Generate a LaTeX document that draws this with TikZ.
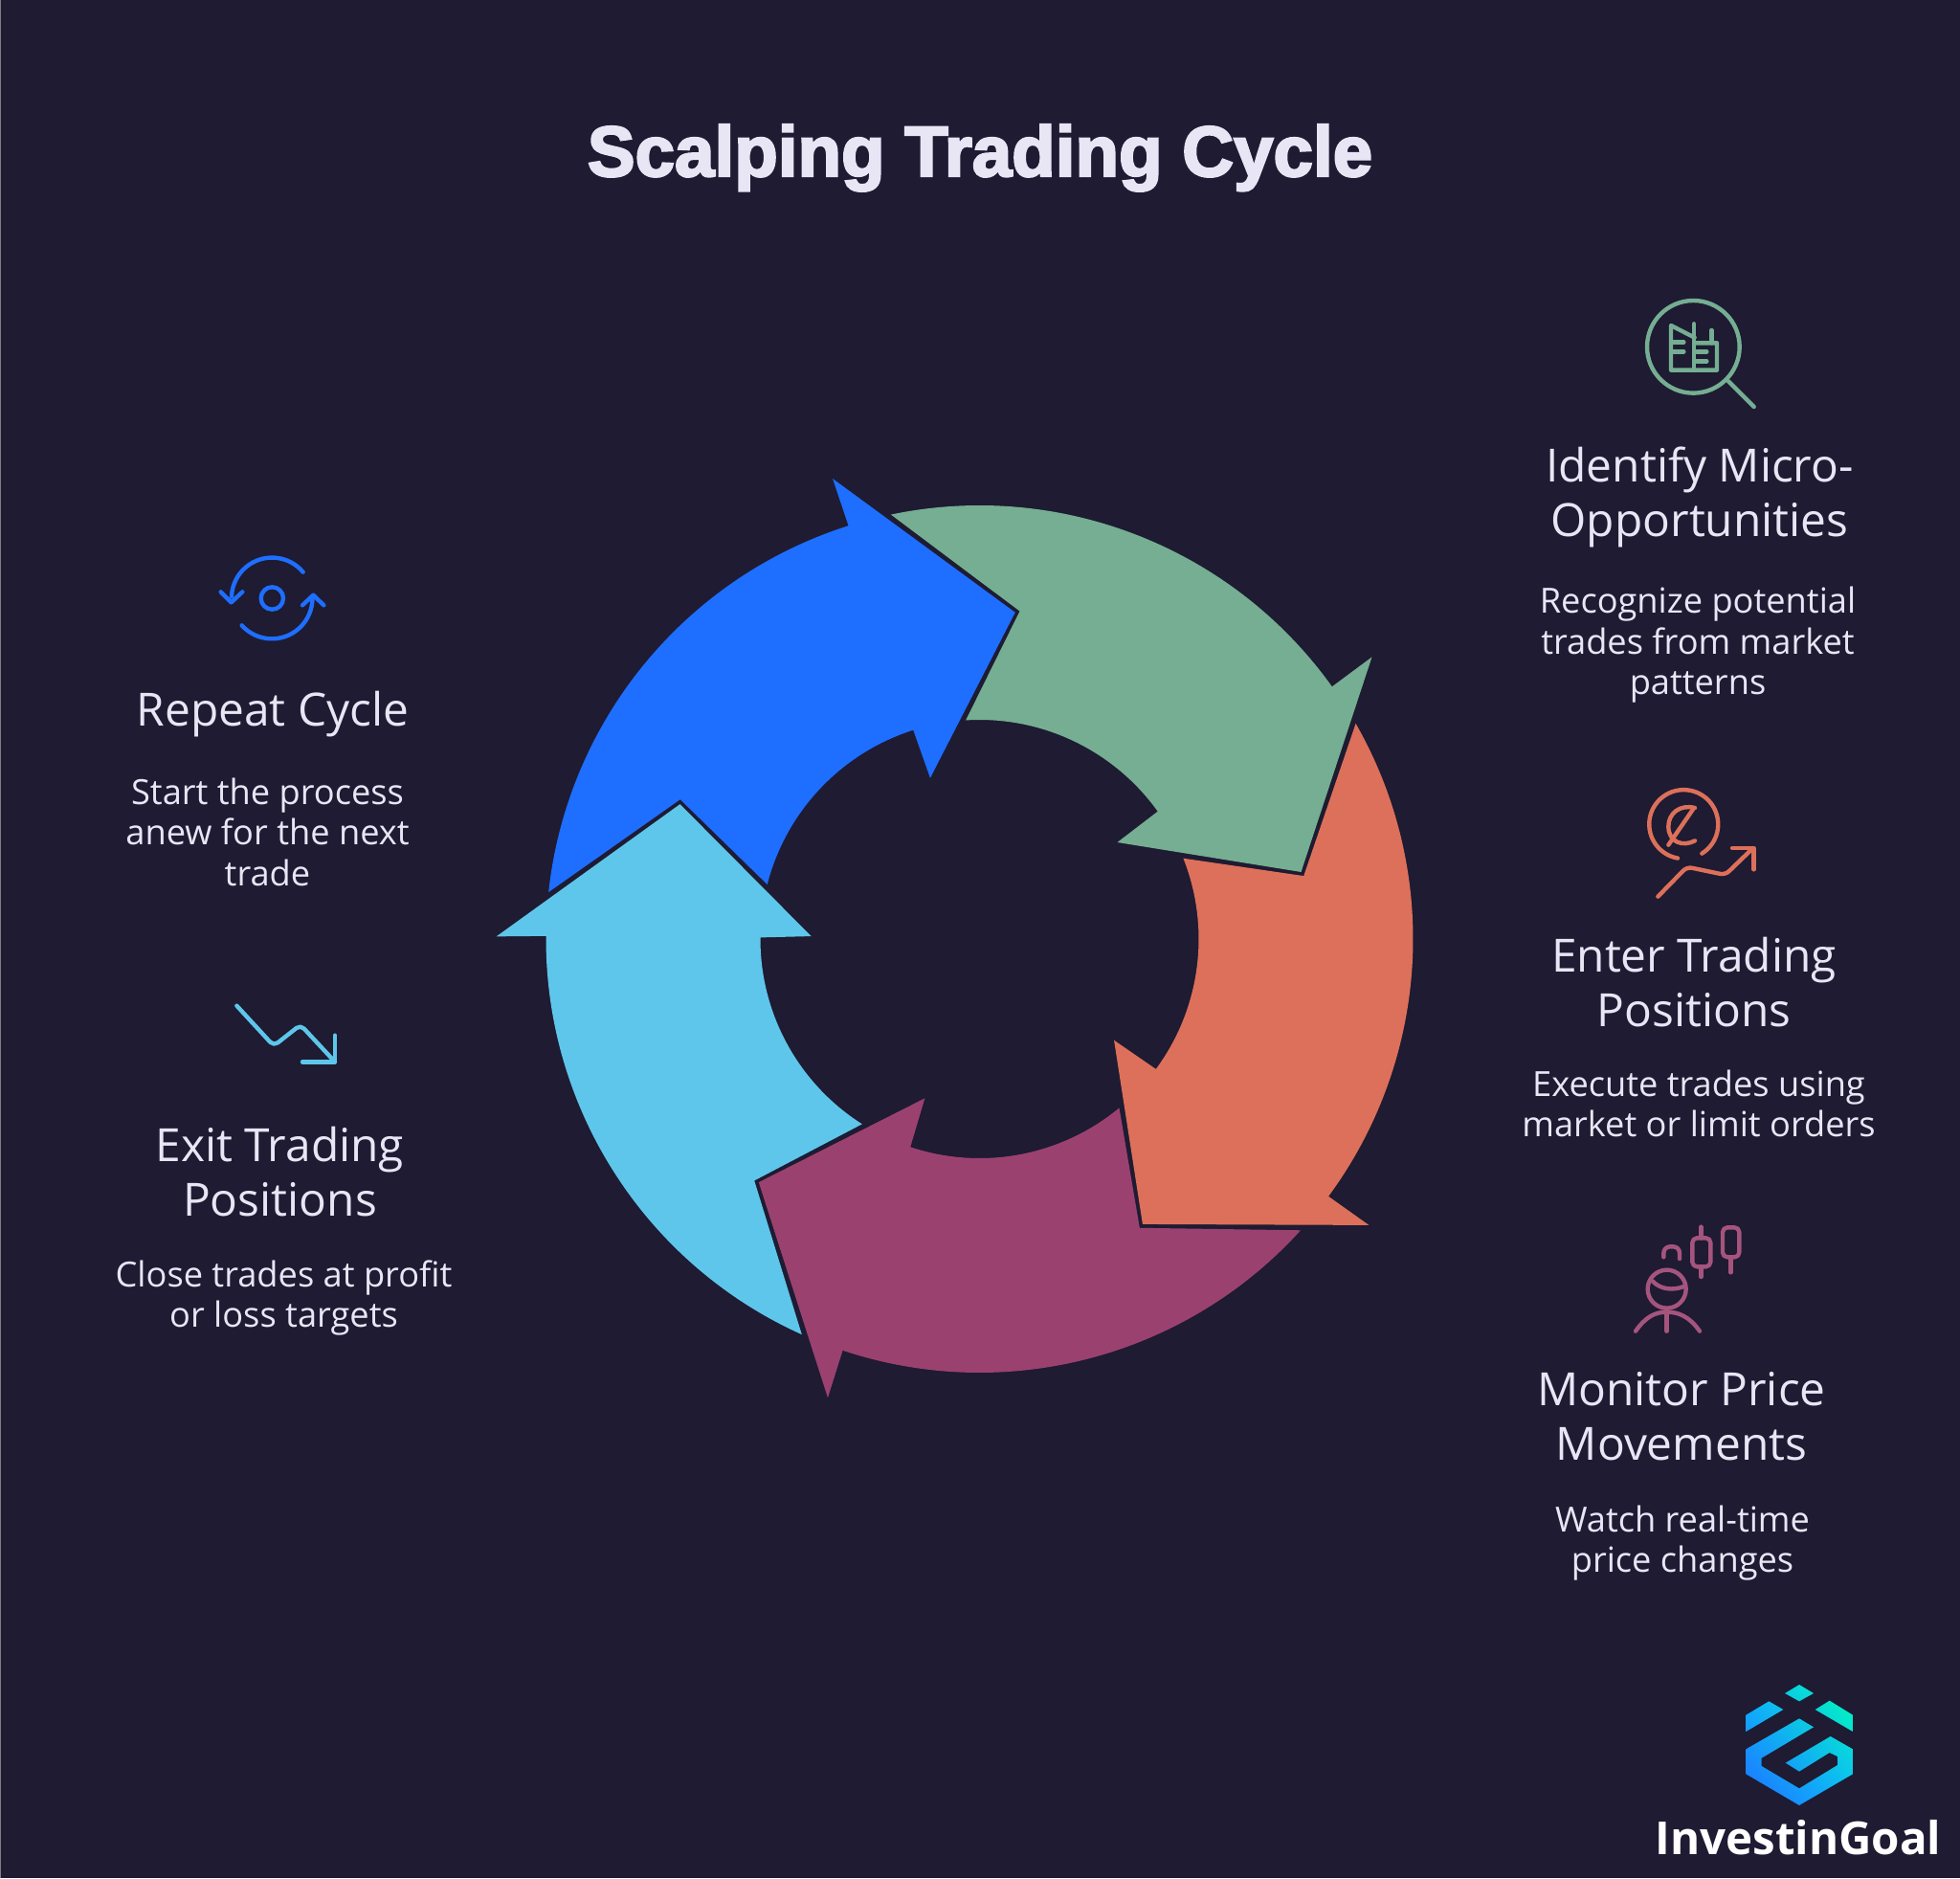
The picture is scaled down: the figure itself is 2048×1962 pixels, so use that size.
\documentclass[tikz,border=0pt]{standalone}
\usepackage{fontspec}
\usetikzlibrary{shadings}
\setmainfont{Open Sans}
\newfontfamily\titlefont[FakeBold=3]{Liberation Sans Bold}
\definecolor{bgdark}{HTML}{1E1B32}
\definecolor{txtlight}{HTML}{E8E6F5}
\definecolor{cycgreen}{HTML}{75AE92}
\definecolor{cycorange}{HTML}{DD705A}
\definecolor{cycpurple}{HTML}{9B4170}
\definecolor{cycsky}{HTML}{5EC6EA}
\definecolor{cycblue}{HTML}{1E6EFF}
\tikzset{
  headtxt/.style={inner sep=0pt,align=center,text=txtlight,font=\fontsize{13.6}{16.2}\selectfont},
  bodytxt/.style={inner sep=0pt,align=center,text=txtlight,font=\fontsize{10.3}{12.1}\selectfont},
  iconline/.style={line width=1.25pt,line cap=round,line join=round},
  iconscale/.style={x=.01cm/3,y=-.01cm/3}
}
\begin{document}
\begin{tikzpicture}[x=.01cm,y=.01cm]
\useasboundingbox (0,0) rectangle (2048,1962);
\fill[bgdark] (0,0) rectangle (2048,1962);
\fill[gray] (0,0) rectangle (1.5,1962);
\node[inner sep=0pt,text=txtlight,font=\titlefont\fontsize{21.2}{24}\selectfont] (title) at (1024,1797) {Scalping Trading Cycle};
% wheel
\begin{scope}[shift={(1023.5,981)}]
\foreach \col/\ang in {cycgreen/0,cycorange/-72,cycpurple/-144,cycsky/-216,cycblue/-288}
\fill[\col,rotate=\ang] (101.8:453) arc[start angle=101.8,end angle=35.6,radius=453] -- (410,294.6) -- (336,70) -- (144,101) -- (35.6:229) arc[start angle=35.6,end angle=93.6,radius=229] -- (42,342.5) -- cycle;
\end{scope}
% labels right
\node[headtxt] (hidentify) at (1776,1443) {Identify Micro-\\Opportunities};
\node[bodytxt] (bidentify) at (1774,1288) {Recognize potential\\trades from market\\patterns};
\node[headtxt] (henter) at (1770,936) {Enter Trading\\Positions};
\node[bodytxt] (benter) at (1775,809) {Execute trades using\\market or limit orders};
\node[headtxt] (hmonitor) at (1757,482) {Monitor Price\\Movements};
\node[bodytxt] (bmonitor) at (1758,350) {Watch real-time\\price changes};
% labels left
\node[headtxt] (hrepeat) at (285,1216) {Repeat Cycle};
\node[bodytxt] (brepeat) at (279.5,1093) {Start the process\\anew for the next\\trade};
\node[headtxt] (hexit) at (292.5,738) {Exit Trading\\Positions};
\node[bodytxt] (bexit) at (296.5,606) {Close trades at profit\\or loss targets};
% magnifier icon
\begin{scope}[shift={(1680,1672)},iconscale,iconline,cycgreen]
\draw (268,217) circle [radius=145];
\draw (378,325) -- (458,405);
\draw (272,188) -- (198,150) -- (198,290) -- (342,290) -- (342,205) -- (272,205);
\draw (270,145) -- (270,285);
\draw (325,165) -- (325,205);
\draw (205,203) -- (238,203);
\draw (205,232) -- (238,232);
\draw (278,232) -- (310,232);
\draw (278,262) -- (310,262);
\end{scope}
% coin and rising line icon
\begin{scope}[shift={(1690,1152)},iconscale,iconline,cycorange]
\draw (265,245) arc[start angle=58,end angle=-260,radius=108];
\draw (243,102) .. controls (195,90) and (160,120) .. (160,160) .. controls (160,210) and (205,225) .. (243,205);
\draw (160,218) -- (238,105);
\draw[rounded corners=1.5pt] (127,380) -- (218,287) -- (338,312) -- (425,228);
\draw (360,228) -- (428,228) -- (428,295);
\end{scope}
% person and candles icon
\begin{scope}[shift={(1690,692)},iconscale,iconline,cycpurple!90!white]
\draw (155,230) circle [radius=60];
\draw (110,205) .. controls (135,232) and (175,235) .. (208,222);
\draw (57,362) .. controls (90,315) and (120,302) .. (155,302) .. controls (190,302) and (225,315) .. (258,362);
\draw (155,295) -- (155,362);
\draw[rounded corners=1.4pt] (235,70) rectangle (292,160);
\draw (262,35) -- (262,70) (262,160) -- (262,192);
\draw[rounded corners=1.4pt] (330,37) rectangle (382,130);
\draw (355,130) -- (355,178);
\draw[rounded corners=1.9pt] (145,130) -- (145,97) -- (195,97) -- (195,135);
\end{scope}
% repeat icon
\begin{scope}[shift={(210,1392)},iconscale,iconline,cycblue]
\draw (223,165) circle [radius=35];
\draw (320,83) arc[start angle=-40,end angle=-178,radius=127];
\draw (62,145) -- (95,178) -- (130,145);
\draw (128,250) arc[start angle=138,end angle=-2,radius=127];
\draw (318,187) -- (352,155) -- (385,187);
\end{scope}
% falling line icon
\begin{scope}[shift={(230,932)},iconscale,iconline,cycsky]
\draw[rounded corners=1.5pt] (52,62) -- (168,188) -- (252,122) -- (360,238);
\draw (360,155) -- (360,238) -- (258,238);
\end{scope}
% logo
\begin{scope}[shift={(1700,222)},iconscale]
\clip (540,60) -- (585,87) -- (540,112) -- (495,87) -- cycle
 (445,112) -- (490,138) -- (373,207) -- (373,155) -- cycle
 (635,110) -- (708,155) -- (708,207) -- (590,138) -- cycle
 (540,166) -- (373,262) -- (373,340) -- (540,438) -- (708,340) -- (708,262) -- (638,222) -- (497,305) -- (540,332) -- (635,273) -- (660,285) -- (660,312) -- (540,385) -- (422,315) -- (422,290) -- (585,193) -- cycle;
\shade[shading=bilinear interpolation,lower left=cycblue,upper right=cyan!70!green,upper left=cycblue!50!cyan,lower right=cycblue!50!cyan] (373,438) rectangle (708,60);
\end{scope}
\node[inner sep=0pt,text=white,font=\fontsize{13.5}{15}\bfseries\selectfont] (logotxt) at (1879,42) {InvestinGoal};
\end{tikzpicture}
\end{document}
